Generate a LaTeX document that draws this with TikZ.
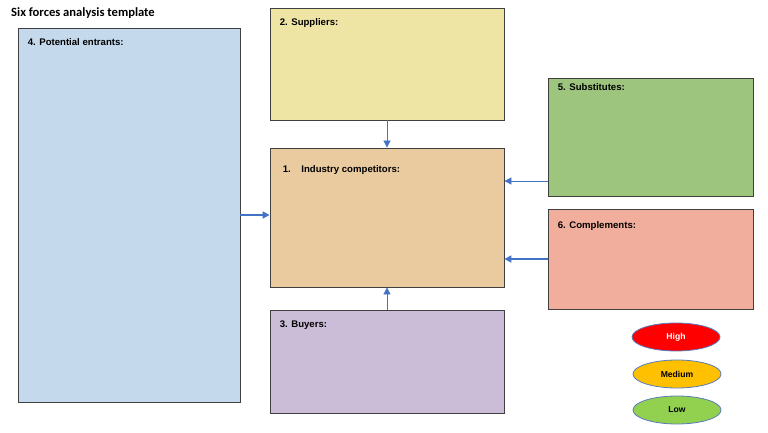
\documentclass[tikz,border=0pt]{standalone}
\usepackage{fontspec}
\setmainfont{Liberation Sans}
\newfontfamily\titlefont{Carlito}
\usetikzlibrary{shapes.geometric,arrows.meta}
\definecolor{boxgray}{HTML}{404040}
\definecolor{arrowblue}{HTML}{4472C4}
\definecolor{ringblue}{HTML}{5A7CB8}
\definecolor{entrantsfill}{HTML}{C5D9ED}
\definecolor{suppliersfill}{HTML}{EEE4A3}
\definecolor{competitorsfill}{HTML}{EACA9F}
\definecolor{buyersfill}{HTML}{CBBDD7}
\definecolor{substitutesfill}{HTML}{9DC57E}
\definecolor{complementsfill}{HTML}{F2AE9C}
\definecolor{highfill}{HTML}{FF0000}
\definecolor{mediumfill}{HTML}{FFC000}
\definecolor{lowfill}{HTML}{92D050}
\tikzset{
  force/.style={draw=boxgray, line width=0.8pt, inner sep=0pt},
  forcetext/.style={anchor=north west, inner sep=0pt, font=\bfseries\fontsize{9.6}{11}\selectfont},
  push/.style={-{Triangle[length=7pt,width=7pt]}, draw=arrowblue, line width=0.8pt},
  pushthick/.style={push, line width=1.6pt},
  level/.style={ellipse, draw=ringblue, line width=0.8pt, inner sep=0pt,
    minimum width=88pt, minimum height=28pt, font=\bfseries\fontsize{8.6}{10}\selectfont}
}
\begin{document}
\begin{tikzpicture}[x=1pt, y=-1pt]
  \useasboundingbox (0,0) rectangle (768,433);
  \node[anchor=west, inner sep=0pt, font=\titlefont\bfseries\fontsize{12.6}{15}\selectfont] (title) at (11,13) {Six forces analysis template};
  % the six boxes
  \node[force, fill=entrantsfill, minimum width=222pt, minimum height=374pt] (ent) at (129,215) {};
  \node[force, fill=suppliersfill, minimum width=234pt, minimum height=112pt] (sup) at (387,64) {};
  \node[force, fill=competitorsfill, minimum width=234pt, minimum height=139pt] (comp) at (387,217.5) {};
  \node[force, fill=buyersfill, minimum width=234pt, minimum height=103pt] (buy) at (387,361.5) {};
  \node[force, fill=substitutesfill, minimum width=205pt, minimum height=118pt] (subst) at (650.5,137) {};
  \node[force, fill=complementsfill, minimum width=205pt, minimum height=100pt] (compl) at (650.5,259) {};
  % their headings
  \node[forcetext] (entlabel) at ([shift={(10,11)}]ent.north west) {4. Potential entrants:};
  \node[forcetext] (suplabel) at ([shift={(10,11)}]sup.north west) {2. Suppliers:};
  \node[forcetext] (complabel) at ([shift={(13,18)}]comp.north west) {1.\hspace{1.1em}Industry competitors:};
  \node[forcetext] (buylabel) at ([shift={(10,11)}]buy.north west) {3. Buyers:};
  \node[forcetext] (substlabel) at ([shift={(10,6)}]subst.north west) {5. Substitutes:};
  \node[forcetext] (compllabel) at ([shift={(10,13)}]compl.north west) {6. Complements:};
  % arrows into the industry
  \begin{scope}
    \draw[pushthick] (ent.east) -- (ent.east -| comp.west);
    \draw[push] (sup.south) -- (comp.north);
    \draw[push] (buy.north) -- (comp.south);
    \draw[push] ([yshift=-44pt]subst.west) -- ([yshift=-44pt]subst.west -| comp.east);
    \draw[pushthick] (compl.west) -- (compl.west -| comp.east);
  \end{scope}
  % legend
  \node[level, fill=highfill, text=white] (high) at (676,337) {High};
  \node[level, fill=mediumfill] (medium) at (677,374) {Medium};
  \node[level, fill=lowfill] (low) at (677,410) {Low};
\end{tikzpicture}
\end{document}
